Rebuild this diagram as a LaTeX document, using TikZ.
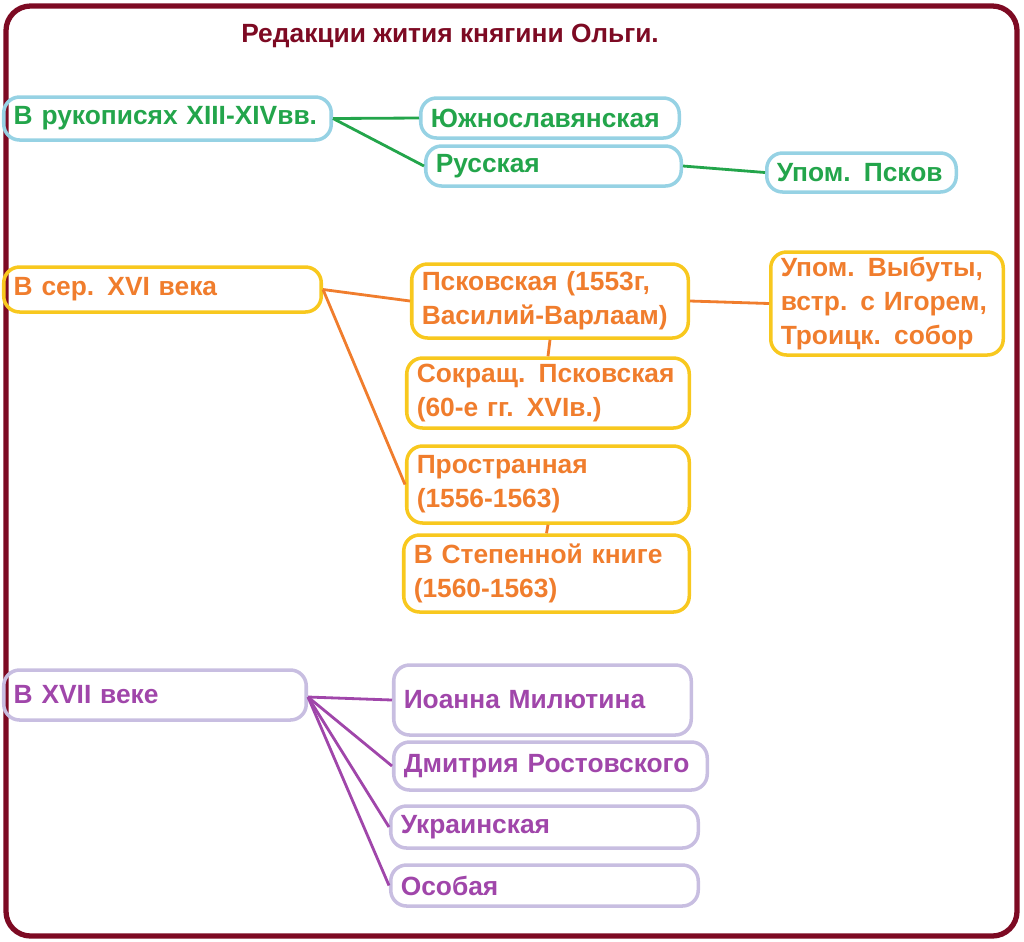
\documentclass[tikz,border=0pt]{standalone}
\usepackage{fontspec}
\setmainfont{Liberation Sans}
\definecolor{frame}{RGB}{125,10,35}
\definecolor{tg}{RGB}{35,165,75}
\definecolor{bg}{RGB}{150,210,228}
\definecolor{to}{RGB}{240,125,45}
\definecolor{bo}{RGB}{248,200,30}
\definecolor{tp}{RGB}{160,70,170}
\definecolor{bp}{RGB}{200,190,225}
\newcommand{\bx}[7]{\node[#6,minimum width={(#4-#2)*0.02cm},minimum height={(#5-#3)*0.02cm},text width={(#4-#2)*0.02cm-0.35cm}] (#1) at ({(#2+#4)/2},{(#3+#5)/2}) {#7};}
\begin{document}
\begin{tikzpicture}[x=0.02cm,y=-0.02cm,
 base/.style={draw,rounded corners=9pt,line width=2pt,align=left,inner xsep=0.2cm,inner ysep=0pt,font=\bfseries\fontsize{15}{19.5}\selectfont},
 G/.style={base,draw=bg,text=tg},
 O/.style={base,draw=bo,text=to},
 P/.style={base,draw=bp,text=tp},
 lg/.style={draw=tg,line width=1.6pt},
 lo/.style={draw=to,line width=1.6pt},
 lp/.style={draw=tp,line width=1.6pt}]
\useasboundingbox (0,0) rectangle (1024,941);
\draw[frame,line width=3pt,rounded corners=14pt] (6,6) rectangle (1017,936);
\node[text=frame,font=\bfseries\fontsize{15}{17}\selectfont] (title) at (450,36) {Редакции жития княгини Ольги.};
\bx{a1}{5}{97}{330}{140}{G}{В рукописях XIII-XIVвв.}
\bx{a2}{422}{98}{678}{138}{G}{Южнославянская}
\bx{a3}{427}{146}{680}{186}{G}{Русская}
\bx{a4}{768}{153}{955}{192}{G}{Упом. Псков}
\draw[lg] (a1.east) -- (a2.west);
\draw[lg] (a1.east) -- (a3.west);
\draw[lg] (a3.east) -- (a4.west);
\bx{b1}{5}{267}{320}{312}{O}{В сер. XVI века}
\bx{b2}{413}{264}{687}{338}{O}{Псковская (1553г,\\Василий-Варлаам)}
\bx{b3}{772}{252}{1002}{355}{O}{Упом. Выбуты,\\встр. с Игорем,\\Троицк. собор}
\bx{b4}{408}{358}{688}{428}{O}{Сокращ. Псковская\\(60-е гг. XVIв.)}
\bx{b5}{408}{446}{688}{523}{O}{Пространная\\(1556-1563)}
\bx{b6}{405}{535}{688}{612}{O}{В Степенной книге\\(1560-1563)}
\draw[lo] (b1.east) -- (b2.west);
\draw[lo] (b1.east) -- (b5.west);
\draw[lo] (b2.east) -- (b3.west);
\draw[lo] (b2.south) -- (b4.north);
\draw[lo] (b5.south) -- (b6.north);
\bx{c1}{5}{670}{305}{720}{P}{В XVII веке}
\bx{c2}{395}{665}{690}{735}{P}{Иоанна Милютина}
\bx{c3}{395}{742}{706}{790}{P}{Дмитрия Ростовского}
\bx{c4}{392}{806}{697}{848}{P}{Украинская}
\bx{c5}{392}{865}{697}{906}{P}{Особая}
\coordinate (cj) at (308,697);
\draw[lp] (cj) -- (c2.west);
\draw[lp] (cj) -- (c3.west);
\draw[lp] (cj) -- (c4.west);
\draw[lp] (cj) -- (c5.west);
\end{tikzpicture}
\end{document}
